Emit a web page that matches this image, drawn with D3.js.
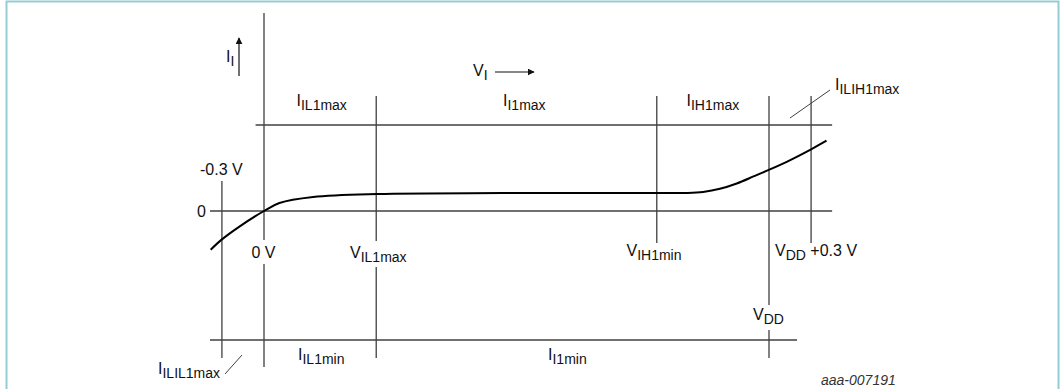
<!DOCTYPE html>
<html>
<head>
<meta charset="utf-8">
<script src="https://cdn.jsdelivr.net/npm/d3@7"></script>
<style>
  html, body { margin: 0; padding: 0; background: #fff; }
  svg { display: block; }
  text { font-family: "Liberation Sans", Arial, sans-serif; fill: #111; }
</style>
</head>
<body>
<svg id="chart" width="1061" height="389"></svg>
<script>
// ---- data (schematic input-current vs input-voltage characteristic) ----
// Reference voltage levels (V): -0.3 V, 0 V, VIL1max, VIH1min, VDD, VDD+0.3 V
const levelNames = ["-0.3", "0", "VIL1max", "VIH1min", "VDD", "VDD+0.3"];
const levelVolts = [-0.3, 0, 0.8, 2.8, 3.6, 3.9];
// Current limits (arbitrary units): max, zero, min
const currentNames = ["Imax", "zero", "Imin"];
const currentValues = [10, 0, -15];
// Curve points (V, I)
const curveV = [-0.38, -0.3, -0.17, 0, 0.11, 0.35, 0.81, 1.7, 2.8, 3.02, 3.13, 3.25, 3.37, 3.49, 3.59, 3.73, 3.9, 4.01];
const curveI = [-4.5, -3.3, -1.75, 0, 0.93, 1.63, 1.98, 2.08, 2.08, 2.1, 2.22, 2.58, 3.2, 4.02, 4.72, 5.75, 7.17, 8.17];

// ---- scales ----
const x = d3.scaleLinear().domain([0, 3.6]).range([264, 769]);
const y = d3.scaleLinear().domain([0, 10]).range([211, 125]);

const svg = d3.select("#chart");

// frame
svg.append("rect").attr("x", 6.5).attr("y", 1.5).attr("width", 1052).attr("height", 400)
  .attr("fill", "none").attr("stroke", "#93cdd3").attr("stroke-width", 2);

const gridColor = "#404040";

// horizontal reference lines
const hExt = { Imax: [x(-0.06), x(4.05)], zero: [x(-0.385), x(4.05)], Imin: [x(-0.385), x(3.8)] };
svg.selectAll("line.h").data(currentNames).join("line").attr("class", "h")
  .attr("x1", d => hExt[d][0]).attr("x2", d => hExt[d][1])
  .attr("y1", (d, i) => y(currentValues[i])).attr("y2", (d, i) => y(currentValues[i]))
  .attr("stroke", gridColor).attr("stroke-width", 1.3);

// vertical reference lines (segments in pixel layout, gaps for labels)
const vSegs = {
  "-0.3": [[181, 358]],
  "0": [[13, 240], [264, 367]],
  "VIL1max": [[96, 241], [267, 358]],
  "VIH1min": [[96, 243]],
  "VDD": [[96, 305], [330, 358]],
  "VDD+0.3": [[96, 243]]
};
const segData = [];
levelNames.forEach((n, i) => vSegs[n].forEach(s => segData.push({ v: levelVolts[i], y1: s[0], y2: s[1] })));
svg.selectAll("line.v").data(segData).join("line").attr("class", "v")
  .attr("x1", d => x(d.v)).attr("x2", d => x(d.v))
  .attr("y1", d => d.y1).attr("y2", d => d.y2)
  .attr("stroke", gridColor).attr("stroke-width", 1.3);

// curve
const pts = curveV.map((v, i) => [v, curveI[i]]);
svg.append("path").datum(pts)
  .attr("d", d3.line().x(d => x(d[0])).y(d => y(d[1])).curve(d3.curveCatmullRom.alpha(0.5)))
  .attr("fill", "none").attr("stroke", "#000").attr("stroke-width", 2);

// leader lines
svg.append("line").attr("x1", 790).attr("y1", 118).attr("x2", 830).attr("y2", 90)
  .attr("stroke", gridColor).attr("stroke-width", 1);
svg.append("line").attr("x1", 225).attr("y1", 374).attr("x2", 242).attr("y2", 355)
  .attr("stroke", gridColor).attr("stroke-width", 1);

// arrows
svg.append("defs").append("marker").attr("id", "ah").attr("viewBox", "0 0 10 10")
  .attr("refX", 9).attr("refY", 5).attr("markerWidth", 7).attr("markerHeight", 7)
  .attr("markerUnits", "userSpaceOnUse").attr("orient", "auto")
  .append("path").attr("d", "M0,0 L10,5 L0,10 z").attr("fill", "#111");
svg.append("line").attr("x1", 239).attr("y1", 76).attr("x2", 239).attr("y2", 38)
  .attr("stroke", "#111").attr("stroke-width", 1.2).attr("marker-end", "url(#ah)");
svg.append("line").attr("x1", 495).attr("y1", 72).attr("x2", 534).attr("y2", 72)
  .attr("stroke", "#111").attr("stroke-width", 1.2).attr("marker-end", "url(#ah)");

// labels: [main, sub, tail, x, y]
const labels = [
  ["I", "I", "", 226, 62],
  ["V", "I", "", 473, 76],
  ["I", "IL1max", "", 296.5, 106],
  ["I", "I1max", "", 503, 106],
  ["I", "IH1max", "", 686.5, 106],
  ["I", "ILIH1max", "", 835, 90],
  ["-0.3 V", "", "", 200, 175],
  ["0", "", "", 197, 217],
  ["0 V", "", "", 251.5, 258],
  ["V", "IL1max", "", 350, 258],
  ["V", "IH1min", "", 626.5, 256],
  ["V", "DD", " +0.3 V", 775, 256],
  ["V", "DD", "", 753, 320],
  ["I", "IL1min", "", 298, 360],
  ["I", "I1min", "", 548, 360],
  ["I", "ILIL1max", "", 158, 374]
];
labels.forEach(l => {
  const t = svg.append("text").attr("x", l[3]).attr("y", l[4]).style("font-size", "16px");
  t.append("tspan").text(l[0]);
  if (l[1]) t.append("tspan").attr("dy", 4).style("font-size", "14px").text(l[1]);
  if (l[2]) t.append("tspan").attr("dy", -4).text(l[2]);
});

svg.append("text").attr("x", 821).attr("y", 385).style("font-size", "14px")
  .style("font-style", "italic").style("fill", "#333").text("aaa-007191");
</script>
</body>
</html>
